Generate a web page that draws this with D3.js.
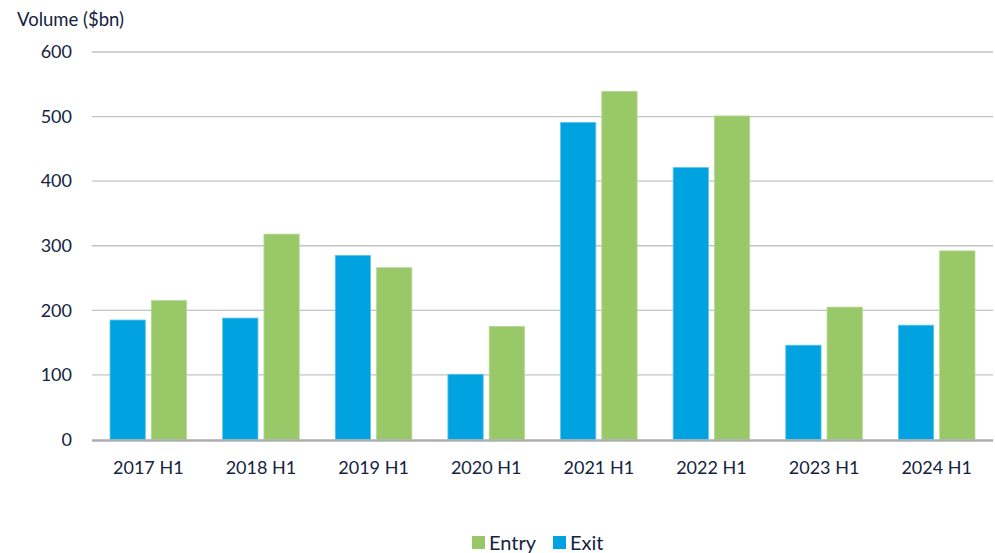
<!DOCTYPE html>
<html><head><meta charset="utf-8">
<script src="https://cdn.jsdelivr.net/npm/d3@7"></script>
<style>body{margin:0;background:#fff;} text{font-family:"Source Sans Pro","Lato","Noto Sans",sans-serif;fill:#14233f;}</style>
</head><body><svg id="c" width="995" height="553"></svg>
<script>
const categories = ["2017 H1","2018 H1","2019 H1","2020 H1","2021 H1","2022 H1","2023 H1","2024 H1"];
const exitValues = [185, 188, 285, 101, 491, 421, 146, 177];
const entryValues = [215, 318, 266, 175, 539, 501, 205, 292];
const yTicks = [0,100,200,300,400,500,600];
const seriesNames = ["Exit","Entry"];
const colors = {Exit:"#00a3e0", Entry:"#99c868"};

const svg = d3.select("#c");
const m = {l:92, r:2, t:52, b:113.5};
const W = 995, H = 553;
const x = d3.scaleBand().domain(categories).range([m.l, W-m.r]).paddingInner(0.32).paddingOuter(0.16);
const xs = d3.scaleBand().domain(seriesNames).range([0, x.bandwidth()]).paddingInner(0.145);
const y = d3.scaleLinear().domain([0,600]).range([H-m.b, m.t]);

// gridlines
svg.append("g").selectAll("line").data(yTicks.filter(d=>d>0)).join("line")
  .attr("x1", m.l).attr("x2", W-m.r).attr("y1", d=>y(d)).attr("y2", d=>y(d))
  .attr("stroke", "#c3c3c6").attr("stroke-width", 1.3);

// y labels
svg.append("g").selectAll("text").data(yTicks).join("text")
  .attr("x", 72).attr("y", d=>y(d)).attr("dy","0.35em").attr("text-anchor","end")
  .attr("font-size", 18).text(d=>d);

svg.append("text").attr("x", 17).attr("y", 26).attr("font-size", 18.5).text("Volume ($bn)");

const data = categories.map((c,i)=>({c, Exit:exitValues[i], Entry:entryValues[i]}));
const g = svg.append("g").selectAll("g").data(data).join("g").attr("transform", d=>`translate(${x(d.c)},0)`);
g.selectAll("rect").data(d=>seriesNames.map(s=>({s, v:d[s]}))).join("rect")
  .attr("x", d=>xs(d.s)).attr("width", xs.bandwidth())
  .attr("y", d=>y(d.v)).attr("height", d=>y(0)-y(d.v))
  .attr("fill", d=>colors[d.s])
  .attr("stroke", d=>d.s==="Exit"?"#5fc4ec":"#b5d993").attr("stroke-width", 0.8);

// x axis line
svg.append("line").attr("x1", m.l).attr("x2", W-m.r).attr("y1", y(0)+1).attr("y2", y(0)+1)
  .attr("stroke", "#aeaeb2").attr("stroke-width", 2.5);

svg.append("g").selectAll("text").data(categories).join("text")
  .attr("x", d=>x(d)+x.bandwidth()/2).attr("y", 474).attr("text-anchor","middle")
  .attr("font-size", 18).text(d=>d);

// legend
const legend = [{s:"Entry", x:472},{s:"Exit", x:553}];
const lg = svg.append("g").selectAll("g").data(legend).join("g").attr("transform", d=>`translate(${d.x},536)`);
lg.append("rect").attr("width", 13).attr("height", 13).attr("fill", d=>colors[d.s]);
lg.append("text").attr("x", 17).attr("y", 13.5).attr("font-size", 20).text(d=>d.s);
</script></body></html>
